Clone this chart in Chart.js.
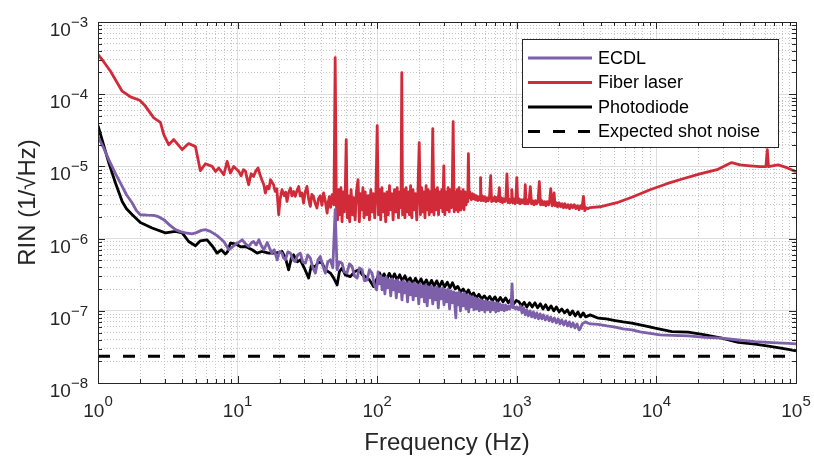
<!DOCTYPE html>
<html><head><meta charset="utf-8">
<script src="https://cdn.jsdelivr.net/npm/chart.js@4.4.1/dist/chart.umd.min.js"></script>
<style>html,body{margin:0;padding:0;background:#fff;}canvas{display:block;}</style>
</head><body>
<canvas id="c" width="814" height="461" style="width:814px;height:461px"></canvas>
<script>
// ---------- data ----------
const ecdlFreq = [1, 1.095, 1.195, 1.334, 1.49, 1.60, 1.76, 1.885, 2.01, 2.26,
  2.51, 2.71, 2.96, 3.25, 3.59, 3.90, 4.23, 4.72, 5.07, 5.50,
  5.88, 6.37, 7.13, 7.96, 8.32, 8.64, 9.02, 9.38, 9.80, 10.8,
  11.4, 12.0, 12.55, 13.0, 13.6, 14.2, 14.8, 15.4, 16.3, 16.9,
  17.6, 18.3, 19.2, 19.9, 20.8, 21.3, 22.0, 22.9, 23.9, 24.9,
  25.9, 27.0, 28.1, 29.3, 30.6, 31.8, 33.2, 34.6, 36.1, 37.6,
  39.1, 40.8, 42.5, 44.3, 46.2, 48.1, 50, 51.6, 53.6, 56.0,
  58.1, 60.7, 63.3, 66.1, 68.7, 71.8, 74.6, 78.0, 81.0, 84.7,
  88.0, 91.8, 95.3, 99.2, 101.5, 103.5, 106, 108.5, 111, 113.5,
  116, 119, 122, 125, 128, 131, 134, 137, 140, 143.5,
  147, 150.5, 154, 157.5, 161, 165, 169, 173, 177, 181,
  185, 189.5, 194, 198.5, 203, 208, 213, 218, 223, 228,
  233, 238.5, 244, 250, 256, 262, 268, 274, 280, 287,
  294, 301, 308, 315, 322, 330, 338, 346, 354, 362,
  366, 370, 378, 386, 395, 404, 413, 422, 432, 442,
  452, 462, 472, 482, 493, 504, 515, 527, 539, 551,
  564, 577, 590, 603, 617, 631, 646, 661, 676, 692,
  708, 724, 741, 758, 776, 794, 812, 831, 850, 870,
  890, 910, 925, 940, 960, 980, 1000, 1030, 1060, 1090,
  1120, 1150, 1180, 1210, 1245, 1280, 1315, 1350, 1390, 1430,
  1470, 1510, 1550, 1600, 1650, 1700, 1750, 1800, 1860, 1920,
  1980, 2040, 2100, 2170, 2240, 2310, 2380, 2450, 2530, 2610,
  2700, 2790, 2840, 2940, 3090, 3350, 3820, 4430, 5070, 5780,
  6670, 7650, 8770, 10600, 12950, 16900, 22300, 29400, 38600, 50900, 67300, 88100, 100000];
const ecdlRin = [2.57e-5, 1.82e-5, 1.24e-5, 7.92e-6, 5.28e-6, 4.05e-6, 3.11e-6, 2.44e-6, 2.14e-6, 2.11e-6,
  2.10e-6, 2.01e-6, 1.83e-6, 1.55e-6, 1.33e-6, 1.25e-6, 1.20e-6, 1.16e-6, 1.21e-6, 1.30e-6,
  1.33e-6, 1.26e-6, 1.10e-6, 9.12e-7, 7.95e-7, 7.0e-7, 7.45e-7, 7.95e-7, 8.47e-7, 9.63e-7,
  8.47e-7, 7.77e-7, 8.75e-7, 9.12e-7, 8.2e-7, 9.63e-7, 7.95e-7, 7.0e-7, 8.83e-7, 7.45e-7,
  6.29e-7, 7.0e-7, 5.08e-7, 6.56e-7, 6.29e-7, 5.42e-7, 5.08e-7, 6.56e-7, 6.29e-7, 5.08e-7,
  4.81e-7, 5.96e-7, 6.29e-7, 4.76e-7, 4.57e-7, 5.96e-7, 5.36e-7, 3.94e-7, 3.33e-7, 5.08e-7,
  5.65e-7, 4.2e-7, 3.33e-7, 4.76e-7, 5.08e-7, 3.94e-7, 2.51e-6, 3.7e-7, 4.76e-7, 4.57e-7,
  3.47e-7, 3.33e-7, 4.47e-7, 4.1e-7, 3.05e-7, 2.84e-7, 3.94e-7, 3.7e-7, 2.6e-7, 2.68e-7,
  3.7e-7, 3.33e-7, 2.28e-7, 1.95e-7, 3.47e-7, 2.36e-7, 3.05e-7, 1.95e-7, 2.86e-7, 1.71e-7,
  2.95e-7, 2.08e-7, 2.68e-7, 1.61e-7, 2.77e-7, 1.95e-7, 2.60e-7, 1.51e-7, 2.68e-7, 1.83e-7,
  2.52e-7, 1.42e-7, 2.60e-7, 1.77e-7, 2.44e-7, 1.33e-7, 2.52e-7, 1.66e-7, 2.36e-7, 1.42e-7,
  2.44e-7, 1.61e-7, 2.28e-7, 1.25e-7, 2.36e-7, 1.56e-7, 2.21e-7, 1.33e-7, 2.28e-7, 1.17e-7,
  2.14e-7, 1.51e-7, 2.21e-7, 1.25e-7, 2.08e-7, 1.42e-7, 2.14e-7, 1.10e-7, 2.01e-7, 1.46e-7,
  2.08e-7, 1.21e-7, 1.95e-7, 1.33e-7, 2.01e-7, 1.06e-7, 1.89e-7, 1.29e-7, 1.83e-7, 1.03e-7,
  7.97e-8, 1.77e-7, 1.21e-7, 1.83e-7, 9.97e-8, 1.71e-7, 1.17e-7, 1.77e-7, 1.06e-7, 1.66e-7,
  9.65e-8, 1.61e-7, 1.13e-7, 1.56e-7, 1.03e-7, 1.51e-7, 1.06e-7, 1.46e-7, 9.97e-8, 1.42e-7,
  1.03e-7, 1.37e-7, 9.65e-8, 1.37e-7, 1.03e-7, 1.33e-7, 9.65e-8, 1.33e-7, 1.03e-7, 1.29e-7,
  9.65e-8, 1.29e-7, 9.97e-8, 1.25e-7, 1.03e-7, 1.21e-7, 9.97e-8, 1.21e-7, 1.03e-7, 1.17e-7,
  1.06e-7, 1.17e-7, 2.36e-7, 1.10e-7, 1.13e-7, 1.06e-7, 1.13e-7, 1.03e-7, 1.17e-7, 9.36e-8,
  1.10e-7, 8.78e-8, 1.03e-7, 8.50e-8, 9.97e-8, 8.23e-8, 9.65e-8, 7.97e-8, 9.36e-8, 7.72e-8,
  9.06e-8, 7.72e-8, 8.78e-8, 7.48e-8, 8.50e-8, 7.25e-8, 8.23e-8, 7.02e-8, 7.97e-8, 6.80e-8,
  7.72e-8, 6.58e-8, 7.48e-8, 6.38e-8, 7.25e-8, 6.18e-8, 7.02e-8, 5.98e-8, 6.80e-8, 5.80e-8,
  6.58e-8, 5.44e-8, 5.61e-8, 6.58e-8, 7.02e-8, 6.58e-8, 6.5e-8, 6.17e-8, 5.93e-8, 5.61e-8,
  5.43e-8, 5.1e-8, 4.89e-8, 4.63e-8, 4.56e-8, 4.49e-8, 4.28e-8, 4.17e-8, 3.94e-8, 3.74e-8, 3.63e-8, 3.54e-8, 3.48e-8];

const fiberFreq = [1, 1.095, 1.229, 1.356, 1.49, 1.71, 1.99, 2.19, 2.51, 2.80,
  2.96, 3.21, 3.49, 4.01, 4.46, 4.99, 5.41, 5.88, 6.57, 6.95,
  7.33, 7.96, 8.41, 8.88, 9.38, 10.2, 10.6, 11.0, 11.4, 11.7,
  12.0, 12.5, 13.0, 13.5, 14.0, 14.5, 14.9, 15.4, 15.8, 16.3,
  16.8, 17.2, 17.7, 18.1, 18.6, 19.1, 19.7, 20.2, 20.8, 21.2,
  21.6, 22.1, 22.6, 23.2, 23.9, 24.5, 25.2, 25.9, 26.6, 27.4,
  28.1, 28.9, 29.7, 30.5, 31.4, 32.3, 33.2, 34.0, 34.9, 35.9,
  37.0, 38.0, 39.1, 40.2, 41.3, 42.5, 43.8, 44.6, 45.4, 46.4,
  47.5, 48.2, 49.0, 50, 51.0, 52.0, 53.0, 54.0, 55.0, 56.0,
  57.0, 58.0, 59.0, 60, 61.0, 62.0, 63.5, 65.0, 66.5, 68.0,
  69.5, 71.0, 72.9, 74.5, 76.0, 77.5, 79.0, 80.5, 82.0, 84.0,
  86.0, 88.0, 90.0, 92.0, 94.0, 96.0, 98.0, 100, 102, 104,
  106, 108, 110, 112.5, 115, 117.5, 120, 122.5, 125, 127.5,
  130, 133, 136, 139, 142, 145, 148, 150, 152, 155,
  158, 161, 164, 167, 170, 173.5, 177, 180.5, 184, 188,
  192, 196, 200, 204, 208, 212, 216, 220, 224, 228,
  232, 236, 240, 245, 250, 255, 260, 265, 270, 275,
  280, 285, 290, 295, 300, 305, 310, 316, 322, 328,
  334, 340, 345, 350, 356, 362, 368, 374, 380, 386,
  392, 398, 405, 412, 419, 426, 433, 440, 445, 450,
  455, 460, 464, 472, 480, 488, 496, 505, 515, 525,
  537, 545, 550, 555, 565, 576, 588, 600, 612, 625,
  638, 650, 660, 672, 685, 698, 710, 722, 735, 750,
  762, 776, 790, 805, 820, 835, 850, 865, 880, 895,
  910, 920, 935, 950, 970, 985, 1000, 1015, 1035, 1055,
  1075, 1095, 1115, 1135, 1150, 1165, 1185, 1205, 1225, 1250,
  1275, 1300, 1330, 1360, 1390, 1420, 1450, 1480, 1510, 1545,
  1580, 1615, 1650, 1690, 1720, 1750, 1790, 1830, 1850, 1880,
  1920, 1960, 2010, 2060, 2110, 2160, 2210, 2270, 2330, 2390,
  2450, 2510, 2580, 2650, 2720, 2790, 2860, 2930, 3000, 3070,
  3140, 3250, 3330, 3950, 5210, 6810, 9000, 11900, 15500, 20500,
  27200, 31000, 34600, 39700, 46900, 55200, 60900, 62300, 63500, 74400, 86100, 100000];
const fiberRin = [3.55e-4, 2.84e-4, 2.08e-4, 1.50e-4, 1.10e-4, 9.18e-5, 8.23e-5, 6.79e-5, 4.70e-5, 4.08e-5,
  2.75e-5, 2.00e-5, 2.35e-5, 1.71e-5, 2.07e-5, 1.88e-5, 8.72e-6, 1.09e-5, 1.00e-5, 8.52e-6,
  9.50e-6, 7.67e-6, 1.17e-5, 8.10e-6, 1.00e-5, 8.52e-6, 7.4e-6, 9.0e-6, 8.52e-6, 6.8e-6,
  5.57e-6, 7.9e-6, 7.27e-6, 8.6e-6, 9.5e-6, 7.6e-6, 6.54e-6, 5.6e-6, 4.28e-6, 5.28e-6,
  4.9e-6, 6.54e-6, 6.0e-6, 5.57e-6, 4.5e-6, 4.9e-6, 2.14e-6, 3.6e-6, 4.75e-6, 4.3e-6,
  3.92e-6, 4.4e-6, 3.27e-6, 4.3e-6, 5.02e-6, 3.9e-6, 4.5e-6, 3.84e-6, 4.6e-6, 5.28e-6,
  3.9e-6, 4.28e-6, 3.11e-6, 4.4e-6, 5.28e-6, 3.5e-6, 2.79e-6, 4.1e-6, 3.84e-6, 3.1e-6,
  2.65e-6, 3.6e-6, 3.92e-6, 2.9e-6, 4.28e-6, 3.3e-6, 2.26e-6, 3.2e-6, 3.8e-6, 2.7e-6,
  4.05e-6, 3.3e-6, 2.94e-6, 3.22e-4, 2.94e-6, 1.82e-6, 4.75e-6, 2.14e-6, 5.06e-6, 1.71e-6,
  4.45e-6, 2.35e-6, 4.18e-6, 2.35e-5, 1.94e-6, 3.92e-6, 1.71e-6, 4.75e-6, 2.14e-6, 3.68e-6,
  1.82e-6, 4.45e-6, 6.54e-6, 1.71e-6, 4.18e-6, 2.51e-6, 5.06e-6, 1.94e-6, 4.45e-6, 2.14e-6,
  3.92e-6, 1.82e-6, 4.75e-6, 2.35e-6, 4.18e-6, 1.94e-6, 4.45e-6, 3.67e-5, 2.14e-6, 4.75e-6,
  1.82e-6, 5.06e-6, 2.35e-6, 4.18e-6, 1.71e-6, 4.45e-6, 2.14e-6, 5.40e-6, 2.51e-6, 4.18e-6,
  1.82e-6, 4.75e-6, 2.35e-6, 5.06e-6, 1.94e-6, 4.45e-6, 2.68e-6, 1.99e-4, 2.14e-6, 4.75e-6,
  1.94e-6, 5.06e-6, 2.35e-6, 4.45e-6, 2.14e-6, 5.40e-6, 1.94e-6, 4.75e-6, 2.51e-6, 4.18e-6,
  1.82e-6, 4.75e-6, 2.14e-5, 2.14e-6, 5.06e-6, 2.35e-6, 4.45e-6, 1.94e-6, 5.40e-6, 2.51e-6,
  4.75e-6, 2.14e-6, 4.45e-6, 2.35e-6, 3.33e-5, 2.14e-6, 4.75e-6, 2.51e-6, 5.06e-6, 2.14e-6,
  4.45e-6, 2.68e-6, 4.75e-6, 2.35e-6, 1.02e-5, 2.14e-6, 4.45e-6, 2.51e-6, 5.06e-6, 2.35e-6,
  4.75e-6, 2.68e-6, 5.40e-6, 4.17e-5, 2.35e-6, 4.45e-6, 2.51e-6, 4.75e-6, 2.35e-6, 5.06e-6,
  2.51e-6, 4.45e-6, 2.68e-6, 4.75e-6, 2.51e-6, 4.45e-6, 2.94e-6, 4.18e-6, 3.24e-6, 1.50e-5,
  3.68e-6, 4.45e-6, 3.92e-6, 3.45e-6, 4.18e-6, 3.56e-6, 4.05e-6, 3.45e-6, 3.92e-6, 3.35e-6,
  3.80e-6, 3.45e-6, 7.00e-6, 3.35e-6, 3.92e-6, 3.35e-6, 3.80e-6, 3.25e-6, 3.68e-6, 3.35e-6,
  3.80e-6, 7.43e-6, 3.25e-6, 3.68e-6, 3.35e-6, 3.80e-6, 3.25e-6, 3.68e-6, 3.35e-6, 5.06e-6,
  3.25e-6, 3.68e-6, 3.14e-6, 3.56e-6, 3.25e-6, 3.45e-6, 7.9e-6, 3.14e-6, 3.56e-6, 3.14e-6,
  3.45e-6, 4.75e-6, 3.14e-6, 3.56e-6, 3.04e-6, 3.45e-6, 7.00e-6, 3.14e-6, 3.56e-6, 3.04e-6,
  3.45e-6, 3.14e-6, 3.45e-6, 3.04e-6, 5.57e-6, 3.04e-6, 3.45e-6, 3.04e-6, 3.35e-6, 5.23e-6,
  3.04e-6, 3.35e-6, 2.94e-6, 3.35e-6, 3.04e-6, 3.25e-6, 6.13e-6, 2.94e-6, 3.35e-6, 2.94e-6,
  3.25e-6, 2.85e-6, 3.25e-6, 2.94e-6, 3.35e-6, 4.90e-6, 2.85e-6, 3.25e-6, 4.28e-6, 2.85e-6,
  3.14e-6, 2.76e-6, 3.14e-6, 2.76e-6, 3.04e-6, 2.68e-6, 3.04e-6, 2.68e-6, 2.94e-6, 2.60e-6,
  2.94e-6, 2.68e-6, 2.94e-6, 2.60e-6, 2.85e-6, 2.51e-6, 2.85e-6, 2.60e-6, 3.84e-6, 2.44e-6,
  2.68e-6, 2.60e-6, 2.68e-6, 2.76e-6, 3.14e-6, 3.80e-6, 4.75e-6, 5.76e-6, 6.75e-6, 7.9e-6,
  9.0e-6, 1.02e-5, 1.13e-5, 1.05e-5, 1.02e-5, 9.9e-6, 9.9e-6, 1.70e-5, 9.9e-6, 1.05e-5, 9.6e-6, 8.44e-6];

const pdFreq = [1, 1.095, 1.195, 1.334, 1.49, 1.60, 1.76, 1.885, 2.01, 2.44,
  3.04, 3.59, 4.01, 4.46, 4.99, 5.41, 6.04, 6.63, 7.13, 7.64,
  8.17, 8.47, 8.88, 9.64, 10.5, 11.4, 12.7, 13.8, 14.9, 16.7,
  18.6, 20.8, 22.0, 23.2, 24.3, 25.2, 26.8, 28.1, 30.0, 32.3,
  33.7, 36.1, 37.9, 40.3, 42.5, 46.2, 48.6, 51.6, 53.6, 56.0,
  59.1, 64.2, 68.7, 73.7, 78.4, 82.2, 88.0, 94.1, 100.1, 104,
  108, 112, 117, 122, 128, 133, 139, 145, 151, 158,
  165, 172, 180, 188, 197, 206, 215, 225, 235, 245,
  256, 267, 279, 291, 304, 318, 332, 346, 362, 378,
  395, 413, 432, 450, 470, 490, 512, 535, 560, 585,
  612, 640, 668, 698, 730, 762, 796, 832, 870, 910,
  950, 990, 1035, 1080, 1130, 1180, 1235, 1290, 1350, 1410,
  1475, 1540, 1610, 1680, 1760, 1840, 1920, 2010, 2100, 2200,
  2300, 2400, 2510, 2620, 2740, 2860, 2990, 3120, 3350, 3840,
  4370, 5070, 5780, 6670, 7650, 8770, 9790, 12900, 16900, 22300, 29400, 38600, 50900, 67000, 88100, 100000];
const pdRin = [3.67e-5, 2.0e-5, 1.12e-5, 5.89e-6, 3.27e-6, 2.59e-6, 2.14e-6, 1.88e-6, 1.67e-6, 1.40e-6,
  1.20e-6, 1.26e-6, 1.20e-6, 9.12e-7, 7.95e-7, 9.32e-7, 9.63e-7, 7.77e-7, 6.29e-7, 7.0e-7,
  6.1e-7, 6.56e-7, 8.66e-7, 8.47e-7, 7.7e-7, 7.77e-7, 7.0e-7, 6.29e-7, 6.63e-7, 6.29e-7,
  6.29e-7, 6.63e-7, 5.42e-7, 3.7e-7, 5.42e-7, 5.96e-7, 4.76e-7, 5.08e-7, 3.94e-7, 2.84e-7,
  4.2e-7, 4.1e-7, 4.76e-7, 4.57e-7, 3.7e-7, 3.33e-7, 2.88e-7, 2.28e-7, 3.47e-7, 3.9e-7,
  3.15e-7, 2.98e-7, 3.47e-7, 3.7e-7, 3.15e-7, 2.98e-7, 2.68e-7, 2.17e-7, 2.86e-7, 3.35e-7,
  2.77e-7, 3.25e-7, 2.68e-7, 3.30e-7, 2.77e-7, 3.25e-7, 2.68e-7, 3.15e-7, 2.60e-7, 3.05e-7,
  2.52e-7, 2.86e-7, 2.36e-7, 2.82e-7, 2.36e-7, 2.77e-7, 2.28e-7, 2.68e-7, 2.21e-7, 2.64e-7,
  2.21e-7, 2.60e-7, 2.14e-7, 2.56e-7, 2.14e-7, 2.48e-7, 2.08e-7, 2.44e-7, 2.01e-7, 2.18e-7,
  1.83e-7, 2.01e-7, 1.71e-7, 1.95e-7, 1.61e-7, 1.77e-7, 1.51e-7, 1.69e-7, 1.46e-7, 1.61e-7,
  1.42e-7, 1.58e-7, 1.37e-7, 1.56e-7, 1.33e-7, 1.53e-7, 1.33e-7, 1.51e-7, 1.29e-7, 1.46e-7,
  1.25e-7, 1.39e-7, 1.33e-7, 1.17e-7, 1.31e-7, 1.13e-7, 1.29e-7, 1.13e-7, 1.29e-7, 1.10e-7,
  1.25e-7, 1.06e-7, 1.21e-7, 1.03e-7, 1.17e-7, 9.97e-8, 1.13e-7, 9.65e-8, 1.06e-7, 9.36e-8,
  1.03e-7, 8.78e-8, 9.97e-8, 8.50e-8, 9.65e-8, 8.23e-8, 9.36e-8, 8.23e-8, 8.78e-8, 7.9e-8,
  7.72e-8, 7.32e-8, 7.01e-8, 6.73e-8, 6.37e-8, 6.04e-8, 5.74e-8, 5.15e-8, 5.05e-8, 4.63e-8, 4.17e-8, 3.66e-8, 3.45e-8, 3.19e-8, 2.93e-8, 2.78e-8];

const shotFreq = [1, 100000];
const shotRin = [2.35e-8, 2.35e-8];

const seriesLabels = ['ECDL', 'Fiber laser', 'Photodiode', 'Expected shot noise'];
const xTickValues = [1, 10, 100, 1000, 10000, 100000];
const xTickExps = ['0', '1', '2', '3', '4', '5'];
const yTickValues = [1e-8, 1e-7, 1e-6, 1e-5, 1e-4, 1e-3];
const yTickExps = ['\u22128', '\u22127', '\u22126', '\u22125', '\u22124', '\u22123'];
const tickBase = '10';
const minorMantissas = [1, 2, 3, 4, 5, 6, 7, 8, 9];
const xTitle = 'Frequency (Hz)';
const yTitle = 'RIN (1/\u221AHz)';

// ---------- styling ----------
const PURPLE = '#7D5FAA';
const RED = '#D12A38';
const AXIS = '#262626';
const FONT = '"Liberation Sans", Arial, Helvetica, sans-serif';
const LW = 2.8;

const toPts = (xs, ys) => xs.map((x, i) => ({ x, y: ys[i] }));
const isDecade = v => { const l = Math.log10(v); return Math.abs(l - Math.round(l)) < 1e-6; };
const allTicks = decades => {
  const out = [];
  decades.forEach((d, i) => {
    if (i === decades.length - 1) { out.push({ value: d }); return; }
    minorMantissas.forEach(m => out.push({ value: m * d }));
  });
  return out;
};

const gridOpts = {
  drawTicks: false,
  lineWidth: 1,
  color: c => (c.tick && isDecade(c.tick.value)) ? '#dedede' : '#c4c4c4'
};
const borderOpts = {
  display: false,
  dash: c => (c.tick && isDecade(c.tick.value)) ? [] : [1, 2]
};

const decor = {
  id: 'decor',
  afterDatasetsDraw(chart) {
    const { ctx, chartArea: a, scales: { x, y } } = chart;
    ctx.save();
    ctx.strokeStyle = AXIS; ctx.lineWidth = 1;
    ctx.beginPath();
    x.ticks.forEach(t => {
      const p = Math.round(x.getPixelForValue(t.value)) + 0.5;
      const len = isDecade(t.value) ? 7 : 4;
      ctx.moveTo(p, a.bottom); ctx.lineTo(p, a.bottom - len);
      ctx.moveTo(p, a.top); ctx.lineTo(p, a.top + len);
    });
    y.ticks.forEach(t => {
      const p = Math.round(y.getPixelForValue(t.value)) + 0.5;
      const len = isDecade(t.value) ? 7 : 4;
      ctx.moveTo(a.left, p); ctx.lineTo(a.left + len, p);
      ctx.moveTo(a.right, p); ctx.lineTo(a.right - len, p);
    });
    ctx.stroke();
    ctx.strokeRect(a.left + 0.5, a.top + 0.5, a.right - a.left, a.bottom - a.top);

    // legend box
    const lx = 522.5, ly = 39.5, lw = 256, lh = 108;
    ctx.fillStyle = '#fff';
    ctx.fillRect(lx, ly, lw, lh);
    ctx.strokeStyle = AXIS; ctx.lineWidth = 1;
    ctx.strokeRect(lx, ly, lw, lh);
    chart.data.datasets.forEach((ds, i) => {
      const ry = 58 + i * 24.5;
      ctx.beginPath();
      ctx.strokeStyle = ds.borderColor;
      ctx.lineWidth = ds.borderWidth;
      ctx.setLineDash(ds.borderDash || []);
      ctx.moveTo(528, ry); ctx.lineTo(592, ry);
      ctx.stroke();
      ctx.setLineDash([]);
      ctx.fillStyle = '#000';
      ctx.font = '18px ' + FONT;
      ctx.textAlign = 'left'; ctx.textBaseline = 'middle';
      ctx.fillText(ds.label, 598, ry + 1);
    });
    ctx.restore();
  },
  afterDraw(chart) {
    const { ctx, chartArea: a, scales: { x, y } } = chart;
    ctx.save();
    ctx.fillStyle = AXIS;
    ctx.textBaseline = 'alphabetic'; ctx.textAlign = 'left';
    const big = '19px ' + FONT, small = '15px ' + FONT;
    xTickValues.forEach((v, i) => {
      const p = x.getPixelForValue(v);
      ctx.font = big; const w1 = ctx.measureText(tickBase).width;
      ctx.font = small; const w2 = ctx.measureText(xTickExps[i]).width;
      const s = p - (w1 + w2) / 2;
      ctx.font = big; ctx.fillText(tickBase, s, a.bottom + 34);
      ctx.font = small; ctx.fillText(xTickExps[i], s + w1, a.bottom + 23);
    });
    yTickValues.forEach((v, i) => {
      const p = y.getPixelForValue(v);
      ctx.font = big; const w1 = ctx.measureText(tickBase).width;
      ctx.font = small; const w2 = ctx.measureText(yTickExps[i]).width;
      const e = a.left - 10;
      ctx.font = big; ctx.fillText(tickBase, e - w2 - w1, p + 14);
      ctx.font = small; ctx.fillText(yTickExps[i], e - w2, p + 5);
    });
    ctx.font = '24px ' + FONT;
    ctx.textAlign = 'center';
    ctx.fillText(xTitle, (a.left + a.right) / 2, 450);
    ctx.translate(35, (a.top + a.bottom) / 2);
    ctx.rotate(-Math.PI / 2);
    ctx.fillText(yTitle, 0, 0);
    ctx.restore();
  }
};

new Chart(document.getElementById('c'), {
  type: 'line',
  data: {
    datasets: [
      { label: seriesLabels[0], data: toPts(ecdlFreq, ecdlRin), borderColor: PURPLE, borderWidth: LW },
      { label: seriesLabels[1], data: toPts(fiberFreq, fiberRin), borderColor: RED, borderWidth: LW },
      { label: seriesLabels[2], data: toPts(pdFreq, pdRin), borderColor: '#000', borderWidth: LW },
      { label: seriesLabels[3], data: toPts(shotFreq, shotRin), borderColor: '#000', borderWidth: 3, borderDash: [12, 13] }
    ]
  },
  options: {
    responsive: false,
    animation: false,
    events: [],
    layout: { padding: { left: 98, top: 22, right: 18, bottom: 78 } },
    elements: {
      point: { radius: 0 },
      line: { tension: 0, borderJoinStyle: 'round', borderCapStyle: 'butt', fill: false }
    },
    plugins: { legend: { display: false }, tooltip: { enabled: false } },
    scales: {
      x: {
        type: 'logarithmic', min: 1, max: 100000,
        ticks: { display: false, autoSkip: false },
        grid: gridOpts, border: borderOpts,
        afterBuildTicks: s => { s.ticks = allTicks(xTickValues); }
      },
      y: {
        type: 'logarithmic', min: 1e-8, max: 1e-3,
        ticks: { display: false, autoSkip: false },
        grid: gridOpts, border: borderOpts,
        afterBuildTicks: s => { s.ticks = allTicks(yTickValues); }
      }
    }
  },
  plugins: [decor]
});
</script>
</body></html>
